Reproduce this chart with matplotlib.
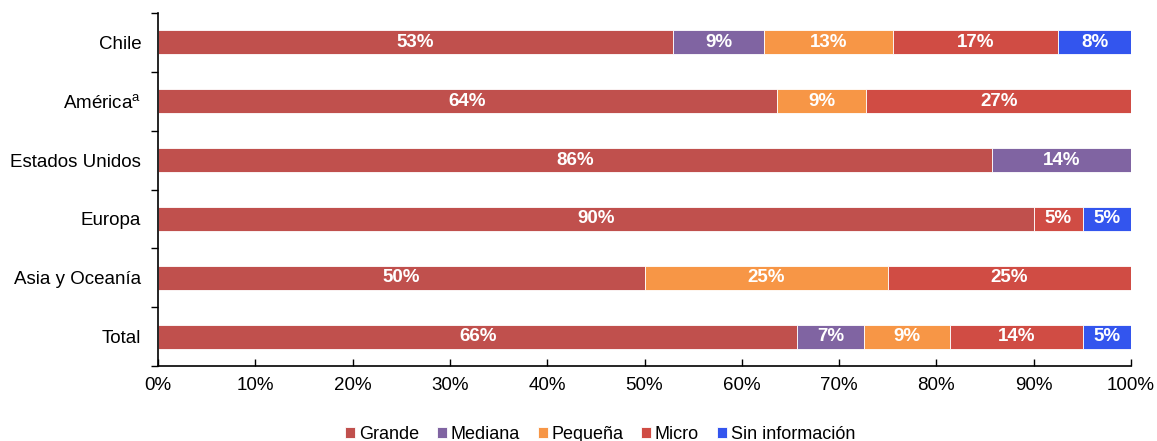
import matplotlib.pyplot as plt
import numpy as np

plt.rcParams['font.family'] = ['Liberation Sans', 'DejaVu Sans']

regions = ["Chile", "América$^{\\mathregular{a}}$", "Estados Unidos", "Europa", "Asia y Oceanía", "Total"]
segments = ["Grande", "Mediana", "Pequeña", "Micro", "Sin información"]

grande = [52.9, 63.6, 85.7, 90.0, 50.0, 65.7]
mediana = [9.4, 0.0, 14.3, 0.0, 0.0, 6.9]
pequena = [13.2, 9.2, 0.0, 0.0, 25.0, 8.8]
micro = [17.0, 27.2, 0.0, 5.1, 25.0, 13.7]
sin_info = [7.5, 0.0, 0.0, 4.9, 0.0, 4.9]

series = [grande, mediana, pequena, micro, sin_info]
colors = ["#C0504D", "#8064A2", "#F79646", "#D04C44", "#3355EE"]

FS = 13.5

fig = plt.figure(figsize=(11.57, 4.41), dpi=100)
ax = fig.add_axes([158 / 1157, 1 - 366 / 441, (1131 - 158) / 1157, (366 - 13) / 441])

y = np.arange(len(regions))
left = np.zeros(len(regions))
for name, vals, col in zip(segments, series, colors):
    vals = np.array(vals)
    bars = ax.barh(y, vals, left=left, height=0.41, color=col, label=name,
                   edgecolor="white", linewidth=0.6)
    for b, v in zip(bars, vals):
        if v > 0:
            ax.text(b.get_x() + b.get_width() / 2, b.get_y() + b.get_height() / 2,
                    f"{v:.0f}%", ha="center", va="center", color="white",
                    fontsize=FS, fontweight="bold")
    left += vals

ax.set_xlim(0, 100)
ax.set_ylim(len(regions) - 0.5, -0.5)
ax.set_xticks(np.arange(0, 101, 10))
ax.set_xticklabels([f"{t}%" for t in range(0, 101, 10)], fontsize=FS)
ax.tick_params(axis="x", direction="in", length=5, pad=8, width=1)

ax.set_yticks(y)
ax.set_yticklabels(regions, fontsize=FS)
ax.tick_params(axis="y", which="major", length=0, pad=12)
ax.set_yticks(np.arange(-0.5, len(regions), 1), minor=True)
ax.tick_params(axis="y", which="minor", direction="out", length=5, width=1)

for s in ("top", "right"):
    ax.spines[s].set_visible(False)
for s in ("left", "bottom"):
    ax.spines[s].set_linewidth(1.2)

fig.legend(loc="lower center", bbox_to_anchor=(600 / 1157, -0.004), ncol=5, frameon=False,
           fontsize=13, handlelength=0.55, handleheight=0.55, handletextpad=0.2,
           columnspacing=1.0, borderaxespad=0, borderpad=0)

fig.savefig("out.png", dpi=100)
